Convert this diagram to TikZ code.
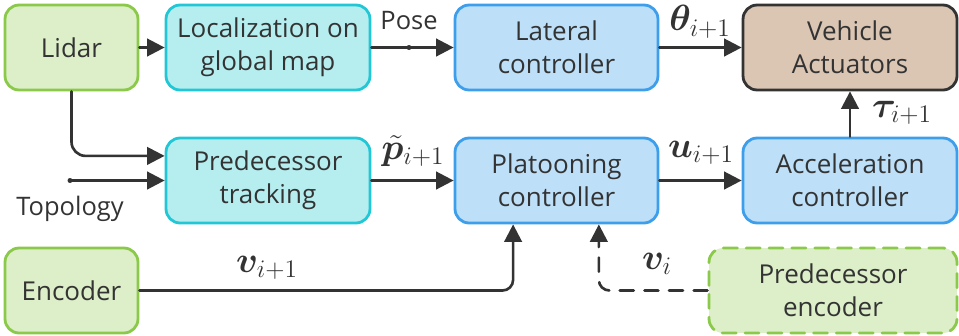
\documentclass[tikz,border=0pt]{standalone}
\usepackage{fontspec}
\setmainfont{Open Sans}
\usepackage{amsmath}
\usepackage{bm}
\usetikzlibrary{arrows.meta,positioning}
\definecolor{ink}{HTML}{333333}
\definecolor{grFill}{HTML}{DCEFC8}
\definecolor{grLine}{HTML}{8BC94A}
\definecolor{cyFill}{HTML}{B6EEF0}
\definecolor{cyLine}{HTML}{22C7D6}
\definecolor{blFill}{HTML}{BDDFF8}
\definecolor{blLine}{HTML}{3D9EEC}
\definecolor{brFill}{HTML}{DBC5B3}
\begin{document}
\begin{tikzpicture}[x=0.02cm, y=-0.02cm, line cap=round]
  \tikzset{blk/.style={rounded corners=8pt, line width=1.6pt, minimum height=1.7cm, align=center, text=ink, font=\fontsize{14.8}{19}\selectfont},
    boxGreen/.style={blk, fill=grFill, draw=grLine},
    boxCyan/.style={blk, fill=cyFill, draw=cyLine},
    boxBlue/.style={blk, fill=blFill, draw=blLine},
    boxBrown/.style={blk, fill=brFill, draw=ink},
    conn/.style={draw=ink, line width=1.5pt, -{Triangle[length=10pt,width=10pt]}},
    sig/.style={text=ink, inner sep=1pt, font=\fontsize{20}{22}\selectfont},
    lbl/.style={text=ink, font=\fontsize{14.5}{18}\selectfont}}
  \useasboundingbox (0,0) rectangle (959,335);
  % bovenste rij
  \node[boxGreen, minimum width=2.66cm] (lidar) at (71.5,47.5) {Lidar};
  \node[boxCyan, minimum width=4.08cm] (loc) at (268,47.5) {Localization on\\global map};
  \node[boxBlue, minimum width=4.06cm] (lat) at (556.5,47.5) {Lateral\\controller};
  \node[boxBrown, minimum width=4.28cm] (veh) at (850,47.5) {Vehicle\\Actuators};
  % middelste rij
  \node[boxCyan, minimum width=4.08cm] (pt) at (268,180.5) {Predecessor\\tracking};
  \node[boxBlue, minimum width=4.06cm] (plat) at (556.5,180.5) {Platooning\\controller};
  \node[boxBlue, minimum width=4.28cm] (acc) at (850,180.5) {Acceleration\\controller};
  % onderste rij
  \node[boxGreen, minimum width=2.66cm] (enc) at (71.5,290.5) {Encoder};
  \node[boxGreen, dash pattern=on 8pt off 5pt, minimum width=4.96cm] (penc) at (833,290.5) {Predecessor\\encoder};
  % verbindingen
  \coordinate (posedot) at (409,47.5);
  \coordinate (topo) at (70,180.5);
  \draw[conn] (lidar) -- (loc);
  \draw[conn] (loc) -- (lat);
  \fill[ink] (posedot) circle (2.5);
  \node[lbl] (pose) at (409,21) {Pose};
  \draw[conn] (lat) -- (veh);
  \node[sig] (theta) at (700,22) {$\bm{\theta}_{i+1}$};
  \draw[conn] (acc) -- (veh);
  \node[sig] (tau) at (902,113) {$\bm{\tau}_{i+1}$};
  \draw[conn, rounded corners=8pt] (lidar.south) |- ([yshift=14pt]pt.west);
  \fill[ink] (topo) circle (2.5);
  \node[lbl] (topology) at (70,209) {Topology};
  \draw[conn] (topo) -- (pt);
  \draw[conn] (pt) -- (plat);
  \node[sig] (ptil) at (413,151) {$\tilde{\bm{p}}_{i+1}$};
  \draw[conn] (plat) -- (acc);
  \node[sig] (uin) at (701,153) {$\bm{u}_{i+1}$};
  \draw[conn, rounded corners=6pt] (enc) -| ([xshift=-24.7pt]plat.south);
  \node[sig] (vnext) at (267,268) {$\bm{v}_{i+1}$};
  \draw[conn, dash pattern=on 8pt off 6pt, rounded corners=6pt] (penc) -| ([xshift=24.1pt]plat.south);
  \node[sig] (vprev) at (657,264) {$\bm{v}_i$};
\end{tikzpicture}
\end{document}
